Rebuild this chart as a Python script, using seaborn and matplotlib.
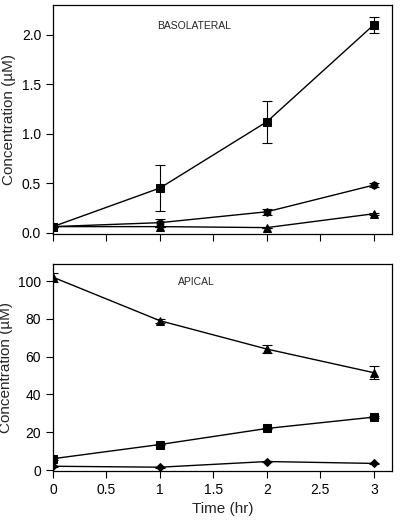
import matplotlib

matplotlib.use('Agg')

import numpy as np  # noqa: E402
import pandas as pd  # noqa: E402
import seaborn as sns  # noqa: E402
from matplotlib import pyplot as plt  # noqa: E402

TIME = [0, 1, 2, 3]

# basolateral side (uM)
BASO_SQUARE = [0.06, 0.45, 1.12, 2.10]
BASO_SQUARE_ERR = [0.0, 0.23, 0.21, 0.08]
BASO_CIRCLE = [0.06, 0.10, 0.21, 0.48]
BASO_CIRCLE_ERR = [0.0, 0.04, 0.03, 0.02]
BASO_TRIANGLE = [0.06, 0.06, 0.05, 0.19]
BASO_TRIANGLE_ERR = [0.0, 0.0, 0.0, 0.01]

# apical side (uM)
API_TRIANGLE = [102, 79, 64, 51.5]
API_TRIANGLE_ERR = [2.5, 1.0, 2.0, 3.5]
API_SQUARE = [6, 13.5, 22, 28]
API_SQUARE_ERR = [0.5, 0.5, 0.5, 0.5]
API_DIAMOND = [2, 1.5, 4.5, 3.5]
API_DIAMOND_ERR = [0.3, 0.3, 0.3, 0.3]

MARKERS = {'square': 's', 'circle': 'h', 'triangle': '^', 'diamond': 'D'}
SIZES = {'square': 6, 'circle': 5.5, 'triangle': 6, 'diamond': 4.5}


def to_frame(series: dict) -> pd.DataFrame:
    rows = []
    for name, (vals, errs) in series.items():
        for t, v, e in zip(TIME, vals, errs):
            rows.append({'time': t, 'conc': v, 'err': e, 'series': name})
    return pd.DataFrame(rows)


def draw_panel(ax, frame: pd.DataFrame) -> None:
    for name, grp in frame.groupby('series', sort=False):
        sns.lineplot(grp, x='time', y='conc', color='black', lw=1,
                     marker=MARKERS[name], markersize=SIZES[name],
                     markeredgecolor='black', ax=ax, zorder=3)
        ax.errorbar(grp['time'], grp['conc'], yerr=grp['err'], fmt='none',
                    ecolor='black', elinewidth=0.8, capsize=3.5, capthick=0.8,
                    zorder=2)


sns.set_style('ticks')
plt.rcParams['font.family'] = ['Liberation Sans', 'DejaVu Sans']

fig = plt.figure(figsize=(4, 5.26), dpi=100)
ax_top = fig.add_axes([0.1325, 0.556, 0.8475, 0.4345])
ax_bot = fig.add_axes([0.1325, 0.1046, 0.8475, 0.3935])

baso = to_frame({
    'square': (BASO_SQUARE, BASO_SQUARE_ERR),
    'circle': (BASO_CIRCLE, BASO_CIRCLE_ERR),
    'triangle': (BASO_TRIANGLE, BASO_TRIANGLE_ERR),
})
api = to_frame({
    'triangle': (API_TRIANGLE, API_TRIANGLE_ERR),
    'square': (API_SQUARE, API_SQUARE_ERR),
    'diamond': (API_DIAMOND, API_DIAMOND_ERR),
})

draw_panel(ax_top, baso)
draw_panel(ax_bot, api)

ax_top.set_xlim(0, 3.17)
ax_top.set_ylim(-0.01, 2.3)
ax_top.set_yticks(np.arange(0, 2.01, 0.5))
ax_top.set_yticklabels([f'{v:.1f}' for v in np.arange(0, 2.01, 0.5)])
ax_top.set_xticks(np.arange(0, 3.01, 0.5))
ax_top.set_xticklabels([])
ax_top.set_xlabel('')
ax_top.set_ylabel('Concentration (µM)', fontsize=11)
ax_top.text(0.97, 2.09, 'BASOLATERAL', fontsize=7.5, va='center')

ax_bot.set_xlim(0, 3.17)
ax_bot.set_ylim(-0.5, 109)
ax_bot.set_yticks(range(0, 101, 20))
ax_bot.set_xticks(np.arange(0, 3.01, 0.5))
ax_bot.set_xticklabels(['0', '0.5', '1', '1.5', '2', '2.5', '3'])
ax_bot.set_xlabel('Time (hr)', fontsize=11)
ax_bot.set_ylabel('Concentration (µM)', fontsize=11)
ax_bot.text(1.17, 99.3, 'APICAL', fontsize=7.5, va='center')

for ax in (ax_top, ax_bot):
    for side in ax.spines.values():
        side.set_visible(True)
        side.set_linewidth(0.9)
        side.set_color('black')
    ax.tick_params(direction='out', length=5, width=0.8, labelsize=10,
                   colors='black')

fig.savefig('out.png', dpi=100)
plt.close(fig)
